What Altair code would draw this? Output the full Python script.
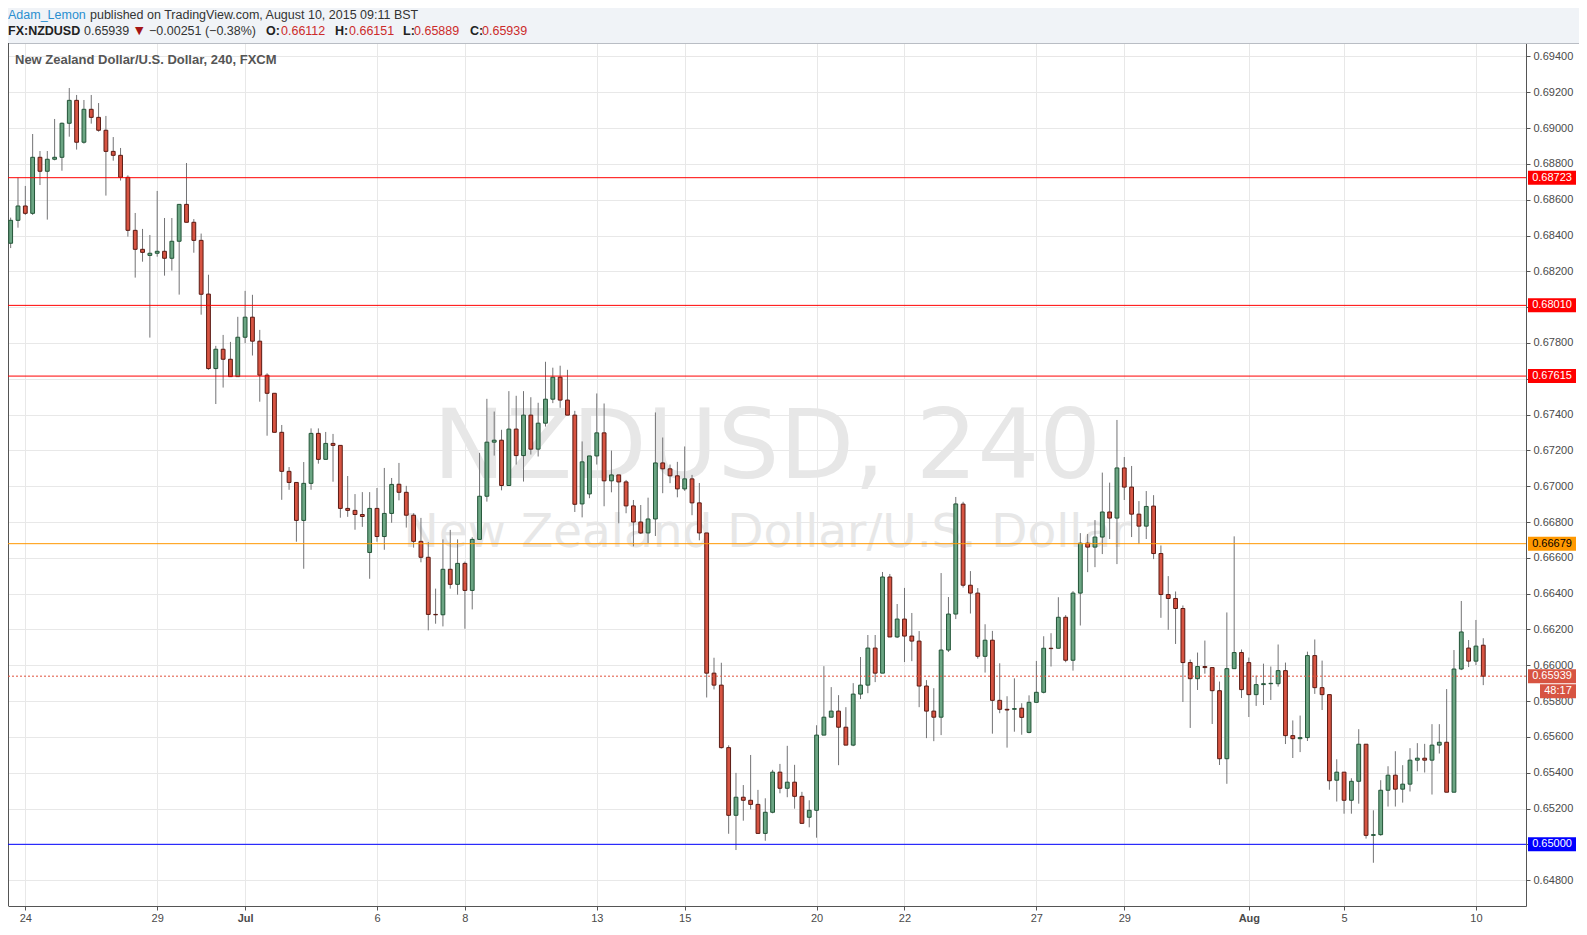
import altair as alt
import pandas as pd

# ---------------- data ----------------
FIRST_BAR = -2  # index of first (partially visible) 4h bar; bar 0 = Jun 24 02:00 BST

OPEN = [
    0.68357, 0.68485, 0.68565, 0.68524, 0.68837, 0.68759, 0.68826, 0.68837, 0.69027, 0.69155,
    0.68921, 0.69105, 0.69060, 0.68988, 0.68870, 0.68848, 0.68725, 0.68429, 0.68323, 0.68289,
    0.68301, 0.68312, 0.68273, 0.68368, 0.68574, 0.68474, 0.68373, 0.68073, 0.67657, 0.67765,
    0.67709, 0.67612, 0.67832, 0.67944, 0.67810, 0.67620, 0.67519, 0.67301, 0.67083, 0.67021,
    0.66809, 0.67016, 0.67295, 0.67150, 0.67239, 0.67228, 0.66876, 0.66865, 0.66842, 0.66630,
    0.66876, 0.66719, 0.66848, 0.67011, 0.66966, 0.66838, 0.66692, 0.66603, 0.66284, 0.66282,
    0.66536, 0.66452, 0.66569, 0.66418, 0.66703, 0.66944, 0.67246, 0.67257, 0.67004, 0.67319,
    0.67171, 0.67397, 0.67207, 0.67352, 0.67486, 0.67609, 0.67481, 0.67397, 0.66901, 0.66957,
    0.67169, 0.67298, 0.67030, 0.67063, 0.67024, 0.66890, 0.66800, 0.66739, 0.66817, 0.67130,
    0.67097, 0.67058, 0.66985, 0.67041, 0.66907, 0.66739, 0.65956, 0.65889, 0.65540, 0.65162,
    0.65263, 0.65246, 0.65223, 0.65061, 0.65179, 0.65403, 0.65313, 0.65347, 0.65268, 0.65151,
    0.65190, 0.65610, 0.65710, 0.65744, 0.65654, 0.65554, 0.65839, 0.65889, 0.66096, 0.65956,
    0.66493, 0.66158, 0.66258, 0.66163, 0.66135, 0.65884, 0.65744, 0.65710, 0.66085, 0.66286,
    0.66900, 0.66447, 0.66403, 0.66050, 0.66140, 0.65804, 0.65754, 0.65754, 0.65760, 0.65625,
    0.65793, 0.65849, 0.66095, 0.66095, 0.66268, 0.66028, 0.66403, 0.66682, 0.66660, 0.66716,
    0.66856, 0.66822, 0.67102, 0.66995, 0.66844, 0.66777, 0.66889, 0.66624, 0.66395, 0.66373,
    0.66317, 0.66015, 0.65925, 0.65993, 0.65987, 0.65858, 0.65478, 0.65981, 0.66071, 0.66015,
    0.65836, 0.65892, 0.65897, 0.65897, 0.65970, 0.65607, 0.65590, 0.65596, 0.66054, 0.65875,
    0.65836, 0.65358, 0.65403, 0.65246, 0.65352, 0.65559, 0.65050, 0.65054, 0.65302, 0.65386,
    0.65308, 0.65336, 0.65470, 0.65481, 0.65470, 0.65554, 0.65570, 0.65291, 0.65979, 0.66096,
    0.66023, 0.66112,
]
HIGH = [
    0.68500, 0.68723, 0.68677, 0.68967, 0.68872, 0.68872, 0.69051, 0.69031, 0.69224, 0.69185,
    0.69157, 0.69185, 0.69140, 0.69068, 0.68950, 0.68889, 0.68736, 0.68526, 0.68437, 0.68403,
    0.68649, 0.68498, 0.68498, 0.68574, 0.68805, 0.68492, 0.68411, 0.68181, 0.67784, 0.67845,
    0.67806, 0.67946, 0.68091, 0.68069, 0.67873, 0.67631, 0.67519, 0.67342, 0.67107, 0.67021,
    0.67135, 0.67323, 0.67323, 0.67303, 0.67292, 0.67228, 0.67057, 0.66956, 0.66967, 0.66967,
    0.66990, 0.67102, 0.67046, 0.67130, 0.67002, 0.66849, 0.66823, 0.66688, 0.66428, 0.66703,
    0.66756, 0.66703, 0.66579, 0.66715, 0.67186, 0.67488, 0.67417, 0.67315, 0.67531, 0.67505,
    0.67531, 0.67497, 0.67466, 0.67695, 0.67662, 0.67673, 0.67650, 0.67421, 0.67250, 0.67169,
    0.67518, 0.67462, 0.67199, 0.67063, 0.67035, 0.66923, 0.66895, 0.66936, 0.67412, 0.67272,
    0.67121, 0.67136, 0.67222, 0.67063, 0.67018, 0.66739, 0.66042, 0.66014, 0.65553, 0.65399,
    0.65331, 0.65499, 0.65304, 0.65257, 0.65416, 0.65449, 0.65550, 0.65444, 0.65293, 0.65246,
    0.65665, 0.65995, 0.65878, 0.65833, 0.65766, 0.65900, 0.66046, 0.66169, 0.66169, 0.66521,
    0.66510, 0.66342, 0.66432, 0.66292, 0.66191, 0.65917, 0.65872, 0.66515, 0.66381, 0.66940,
    0.66913, 0.66526, 0.66431, 0.66229, 0.66192, 0.66011, 0.65827, 0.65927, 0.65788, 0.65832,
    0.66024, 0.66162, 0.66179, 0.66380, 0.66280, 0.66414, 0.66738, 0.66733, 0.66811, 0.67076,
    0.67020, 0.67370, 0.67163, 0.67113, 0.66917, 0.66973, 0.66950, 0.66669, 0.66498, 0.66412,
    0.66334, 0.66032, 0.66071, 0.66138, 0.65987, 0.65909, 0.66295, 0.66720, 0.66088, 0.66043,
    0.65942, 0.66009, 0.65993, 0.66116, 0.66015, 0.65692, 0.65719, 0.66076, 0.66144, 0.66026,
    0.65836, 0.65475, 0.65403, 0.65369, 0.65643, 0.65559, 0.65190, 0.65358, 0.65436, 0.65520,
    0.65442, 0.65537, 0.65565, 0.65561, 0.65671, 0.65671, 0.65867, 0.66085, 0.66359, 0.66141,
    0.66253, 0.66151,
]
LOW = [
    0.68330, 0.68444, 0.68515, 0.68515, 0.68682, 0.68489, 0.68820, 0.68762, 0.68952, 0.68880,
    0.68913, 0.69025, 0.68980, 0.68623, 0.68818, 0.68707, 0.68394, 0.68165, 0.68254, 0.67830,
    0.68282, 0.68176, 0.68204, 0.68070, 0.68474, 0.68304, 0.67958, 0.67650, 0.67459, 0.67551,
    0.67612, 0.67612, 0.67799, 0.67730, 0.67472, 0.67282, 0.67301, 0.66924, 0.66980, 0.66690,
    0.66539, 0.66980, 0.67126, 0.67150, 0.67025, 0.66824, 0.66829, 0.66757, 0.66773, 0.66483,
    0.66690, 0.66645, 0.66796, 0.66921, 0.66769, 0.66657, 0.66575, 0.66195, 0.66232, 0.66217,
    0.66428, 0.66394, 0.66204, 0.66312, 0.66703, 0.66914, 0.67171, 0.66977, 0.67004, 0.67121,
    0.67026, 0.67177, 0.67166, 0.67333, 0.67464, 0.67438, 0.67397, 0.66856, 0.66826, 0.66933,
    0.67121, 0.66888, 0.66966, 0.66793, 0.66849, 0.66664, 0.66733, 0.66683, 0.66722, 0.66961,
    0.67017, 0.66938, 0.66974, 0.66838, 0.66698, 0.65820, 0.65865, 0.65535, 0.65059, 0.64968,
    0.65132, 0.65195, 0.65061, 0.65020, 0.65173, 0.65285, 0.65263, 0.65199, 0.65117, 0.65095,
    0.65037, 0.65610, 0.65710, 0.65442, 0.65554, 0.65548, 0.65811, 0.65844, 0.65906, 0.65956,
    0.66158, 0.66152, 0.66018, 0.66023, 0.65766, 0.65593, 0.65576, 0.65610, 0.66074, 0.66258,
    0.66434, 0.66289, 0.66037, 0.65959, 0.65618, 0.65732, 0.65540, 0.65629, 0.65612, 0.65620,
    0.65793, 0.65843, 0.65993, 0.66095, 0.66017, 0.65970, 0.66222, 0.66520, 0.66548, 0.66621,
    0.66705, 0.66565, 0.66923, 0.66716, 0.66677, 0.66705, 0.66593, 0.66265, 0.66198, 0.66119,
    0.65795, 0.65650, 0.65862, 0.65953, 0.65672, 0.65443, 0.65338, 0.65981, 0.65817, 0.65711,
    0.65773, 0.65778, 0.65806, 0.65881, 0.65560, 0.65482, 0.65515, 0.65577, 0.65840, 0.65750,
    0.65305, 0.65239, 0.65171, 0.65171, 0.65227, 0.65032, 0.64897, 0.65048, 0.65211, 0.65211,
    0.65233, 0.65295, 0.65408, 0.65401, 0.65278, 0.65507, 0.65291, 0.65291, 0.65973, 0.65990,
    0.66001, 0.65889,
]
CLOSE = [
    0.68485, 0.68565, 0.68524, 0.68837, 0.68759, 0.68826, 0.68837, 0.69027, 0.69155, 0.68921,
    0.69105, 0.69060, 0.68988, 0.68870, 0.68848, 0.68725, 0.68429, 0.68323, 0.68306, 0.68301,
    0.68312, 0.68273, 0.68368, 0.68574, 0.68474, 0.68373, 0.68072, 0.67657, 0.67765, 0.67709,
    0.67612, 0.67832, 0.67944, 0.67810, 0.67620, 0.67519, 0.67301, 0.67083, 0.67021, 0.66809,
    0.67016, 0.67295, 0.67150, 0.67239, 0.67228, 0.66876, 0.66865, 0.66842, 0.66831, 0.66876,
    0.66719, 0.66848, 0.67010, 0.66966, 0.66838, 0.66692, 0.66603, 0.66284, 0.66282, 0.66536,
    0.66452, 0.66569, 0.66418, 0.66703, 0.66944, 0.67246, 0.67257, 0.67004, 0.67319, 0.67171,
    0.67397, 0.67207, 0.67352, 0.67486, 0.67609, 0.67481, 0.67397, 0.66899, 0.67136, 0.67169,
    0.67298, 0.67030, 0.67063, 0.67024, 0.66890, 0.66800, 0.66739, 0.66817, 0.67130, 0.67097,
    0.67058, 0.66985, 0.67041, 0.66907, 0.66739, 0.65956, 0.65889, 0.65540, 0.65162, 0.65263,
    0.65246, 0.65223, 0.65061, 0.65179, 0.65403, 0.65313, 0.65347, 0.65268, 0.65117, 0.65190,
    0.65610, 0.65710, 0.65744, 0.65654, 0.65554, 0.65839, 0.65889, 0.66096, 0.65956, 0.66493,
    0.66158, 0.66258, 0.66163, 0.66135, 0.65884, 0.65744, 0.65710, 0.66085, 0.66286, 0.66901,
    0.66447, 0.66403, 0.66050, 0.66140, 0.65804, 0.65754, 0.65750, 0.65758, 0.65709, 0.65793,
    0.65849, 0.66095, 0.66093, 0.66268, 0.66028, 0.66403, 0.66682, 0.66660, 0.66716, 0.66856,
    0.66822, 0.67102, 0.66995, 0.66844, 0.66777, 0.66887, 0.66624, 0.66395, 0.66373, 0.66317,
    0.66015, 0.65925, 0.65993, 0.65987, 0.65858, 0.65478, 0.65981, 0.66071, 0.65864, 0.65836,
    0.65892, 0.65897, 0.65899, 0.65970, 0.65607, 0.65590, 0.65596, 0.66054, 0.65875, 0.65836,
    0.65355, 0.65403, 0.65246, 0.65352, 0.65559, 0.65050, 0.65054, 0.65302, 0.65386, 0.65308,
    0.65336, 0.65470, 0.65481, 0.65470, 0.65554, 0.65570, 0.65291, 0.65979, 0.66186, 0.66023,
    0.66107, 0.65939,
]
assert len(OPEN) == len(HIGH) == len(LOW) == len(CLOSE)

# date labels on the time axis, at bar indices
TICK_POS = [0, 18, 30, 48, 60, 78, 90, 108, 120, 138, 150, 167, 180, 198]
TICK_LBL = ["24", "29", "Jul", "6", "8", "13", "15", "20", "22", "27", "29", "Aug", "5", "10"]
MONTH_POS = [30, 167]

PRICE_TICKS = [0.648, 0.650, 0.652, 0.654, 0.656, 0.658, 0.660, 0.662, 0.664, 0.666,
               0.668, 0.670, 0.672, 0.674, 0.676, 0.678, 0.680, 0.682, 0.684, 0.686,
               0.688, 0.690, 0.692, 0.694]

LEVELS = [0.68723, 0.68010, 0.67615, 0.66679, 0.65000]
LEVEL_LBL = ["0.68723", "0.68010", "0.67615", "0.66679", "0.65000"]
LEVEL_COL = ["#ff0000", "#ff0000", "#ff0000", "#ff9800", "#0000ff"]
LEVEL_TXT = ["#ffffff", "#ffffff", "#ffffff", "#000000", "#ffffff"]

LAST_PRICE = 0.65939
LAST_LBL = "0.65939"
COUNTDOWN = "48:17"

# ---------------- styling / layout ----------------
W, H = 1518, 863
XDOM = [-1.6814, 204.149]
YDOM = [0.646555, 0.694753]
FONT = "Liberation Sans"
UP_FILL, UP_STROKE = "#6ba583", "#225437"
DN_FILL, DN_STROKE = "#d75442", "#5b1a13"
WICK = "#737375"
GRID = "#e8e8e8"
AXC = "#555555"

bars = pd.DataFrame({
    "k": list(range(FIRST_BAR, FIRST_BAR + len(OPEN))),
    "open": OPEN, "high": HIGH, "low": LOW, "close": CLOSE,
})
bars["up"] = bars["close"] >= bars["open"]

levels = pd.DataFrame({"price": LEVELS, "lbl": LEVEL_LBL, "bg": LEVEL_COL, "fg": LEVEL_TXT})
last = pd.DataFrame({"price": [LAST_PRICE], "lbl": [LAST_LBL], "cd": [COUNTDOWN]})
one = pd.DataFrame({"a": [0]})

lbl_expr = "[" + ",".join("'%s'" % t for t in TICK_LBL) + "][indexof([" + \
    ",".join(str(p) for p in TICK_POS) + "], datum.value)]"
bold_test = " || ".join("datum.value == %d" % p for p in MONTH_POS)

x_axis = alt.Axis(values=TICK_POS, labelExpr=lbl_expr, title=None, grid=True, gridColor=GRID,
                  tickSize=4, tickColor=AXC, domainColor=AXC, labelPadding=2,
                  labelOverlap=False, labelFlush=False, labelFont=FONT, labelFontSize=11,
                  labelColor="#4a4a4a",
                  labelFontWeight={"condition": {"test": bold_test, "value": "bold"}, "value": "normal"})
y_axis = alt.Axis(orient="right", values=PRICE_TICKS, format=".5f", title=None, grid=True,
                  gridColor=GRID, tickSize=4, tickColor=AXC, domainColor=AXC, labelPadding=3,
                  labelOverlap=False, labelFlush=False, labelFont=FONT, labelFontSize=11,
                  labelColor="#4a4a4a")


def X(field):
    return alt.X(field, type="quantitative",
                 scale=alt.Scale(domain=XDOM, nice=False, zero=False), axis=x_axis)


def Y(field):
    return alt.Y(field, type="quantitative",
                 scale=alt.Scale(domain=YDOM, nice=False, zero=False), axis=y_axis)


layers = []

# header band and borders
layers.append(alt.Chart(one).mark_rect(color="#f0f3f7").encode(
    x=alt.value(0), x2=alt.value(1571), y=alt.value(-35), y2=alt.value(0)))
layers.append(alt.Chart(one).mark_rule(color="#b9bdc4", strokeWidth=1).encode(
    x=alt.value(0), x2=alt.value(1571), y=alt.value(0.5)))
layers.append(alt.Chart(one).mark_rule(color=AXC, strokeWidth=1).encode(
    x=alt.value(0.5), y=alt.value(0), y2=alt.value(H)))

# watermark
layers.append(alt.Chart(pd.DataFrame({"t": ["NZDUSD, 240"]})).mark_text(
    font="DejaVu Sans", fontSize=97, color="#e7e7e7", align="center", baseline="alphabetic").encode(
    x=alt.value(759), y=alt.value(435), text="t:N"))
layers.append(alt.Chart(pd.DataFrame({"t": ["New Zealand Dollar/U.S. Dollar"]})).mark_text(
    font="DejaVu Sans", fontSize=47, color="#e7e7e7", align="center", baseline="alphabetic").encode(
    x=alt.value(759), y=alt.value(504), text="t:N"))

# candles
layers.append(alt.Chart(bars).mark_rule(color=WICK, strokeWidth=1, clip=True).encode(
    x=X("k"), y=Y("low"), y2="high"))
layers.append(alt.Chart(bars).mark_bar(size=3.8, strokeWidth=1, clip=True).encode(
    x=X("k"), y=Y("open"), y2="close",
    fill=alt.condition("datum.up", alt.value(UP_FILL), alt.value(DN_FILL)),
    stroke=alt.condition("datum.up", alt.value(UP_STROKE), alt.value(DN_STROKE))))

# horizontal levels
layers.append(alt.Chart(levels).mark_rule(strokeWidth=1).encode(
    y=Y("price"), color=alt.Color("bg:N", scale=None)))
layers.append(alt.Chart(last).mark_rule(strokeWidth=1, strokeDash=[2, 2], color="#e0503c").encode(
    y=Y("price")))

# price badges on the axis
layers.append(alt.Chart(levels).mark_rect(yOffset=-7, y2Offset=7).encode(
    y=Y("price"), y2="price", x=alt.value(1520), x2=alt.value(1568),
    color=alt.Color("bg:N", scale=None)))
layers.append(alt.Chart(levels).mark_text(font=FONT, fontSize=11, align="center", baseline="middle").encode(
    y=Y("price"), x=alt.value(1544), text="lbl:N", color=alt.Color("fg:N", scale=None)))
layers.append(alt.Chart(last).mark_rect(yOffset=-7, y2Offset=7, color="#d75442").encode(
    y=Y("price"), y2="price", x=alt.value(1520), x2=alt.value(1568)))
layers.append(alt.Chart(last).mark_text(font=FONT, fontSize=11, align="center", baseline="middle",
                                        color="#ffffff").encode(
    y=Y("price"), x=alt.value(1544), text="lbl:N"))
layers.append(alt.Chart(last).mark_rect(yOffset=8, y2Offset=22, color="#d75442").encode(
    y=Y("price"), y2="price", x=alt.value(1532), x2=alt.value(1568)))
layers.append(alt.Chart(last).mark_text(font=FONT, fontSize=11, align="center", baseline="middle",
                                        color="#ffffff", dy=15).encode(
    y=Y("price"), x=alt.value(1550), text="cd:N"))

# header texts
LINE1_Y = -28
LINE2_Y = -12.5
layers.append(alt.Chart(pd.DataFrame({"t": ["Adam_Lemon"]})).mark_text(
    font=FONT, fontSize=12.5, color="#2a8fd0", align="left", baseline="middle").encode(
    x=alt.value(0), y=alt.value(LINE1_Y), text="t:N"))
layers.append(alt.Chart(pd.DataFrame({"t": ["published on TradingView.com, August 10, 2015 09:11 BST"]})).mark_text(
    font=FONT, fontSize=12.5, color="#333333", align="left", baseline="middle").encode(
    x=alt.value(82), y=alt.value(LINE1_Y), text="t:N"))

hdr_bold = pd.DataFrame({"t": ["FX:NZDUSD", "O:", "H:", "L:", "C:"],
                         "px": [0, 258, 327, 395, 462]})
hdr_norm = pd.DataFrame({"t": ["0.65939", "\u22120.00251 (\u22120.38%)", "0.66112", "0.66151", "0.65889", "0.65939"],
                         "px": [76, 141, 273, 341, 406, 474],
                         "c": ["#333333", "#333333", "#cc2b2b", "#cc2b2b", "#cc2b2b", "#cc2b2b"]})
layers.append(alt.Chart(hdr_bold).mark_text(
    font=FONT, fontSize=12.5, fontWeight="bold", color="#222222", align="left", baseline="middle").encode(
    x=alt.X("px:Q", scale=None), y=alt.value(LINE2_Y), text="t:N"))
layers.append(alt.Chart(hdr_norm).mark_text(
    font=FONT, fontSize=12.5, align="left", baseline="middle").encode(
    x=alt.X("px:Q", scale=None), y=alt.value(LINE2_Y), text="t:N", color=alt.Color("c:N", scale=None)))
layers.append(alt.Chart(pd.DataFrame({"t": ["\u25bc"]})).mark_text(
    font="DejaVu Sans", fontSize=11, color="#a31515", align="left", baseline="middle").encode(
    x=alt.value(127), y=alt.value(LINE2_Y), text="t:N"))

# title inside the plot
layers.append(alt.Chart(pd.DataFrame({"t": ["New Zealand Dollar/U.S. Dollar, 240, FXCM"]})).mark_text(
    font=FONT, fontSize=13, fontWeight="bold", color="#555555", align="left", baseline="middle").encode(
    x=alt.value(7), y=alt.value(17), text="t:N"))

chart = alt.layer(*layers).properties(
    width=W, height=H,
    padding={"left": 0, "top": 35, "right": 53, "bottom": 21},
    autosize=alt.AutoSizeParams(type="none"),
    background="#ffffff",
).configure_view(stroke=None)

chart.save("out.html", embed_options={"renderer": "svg", "actions": False})
